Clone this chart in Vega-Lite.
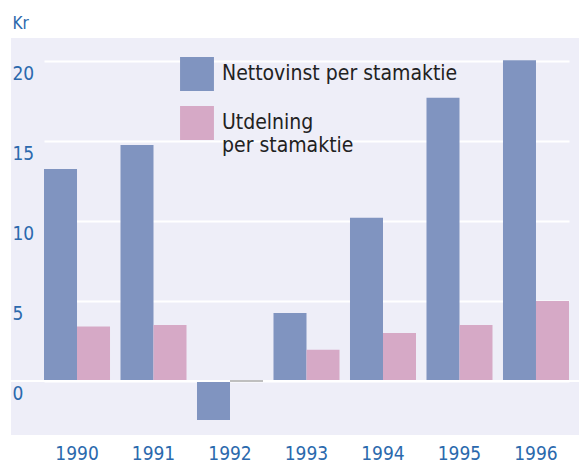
{
  "$schema": "https://vega.github.io/schema/vega-lite/v6.json",
  "width": 568,
  "height": 397,
  "autosize": {"type": "none"},
  "padding": {"left": 11, "top": 38, "right": 0, "bottom": 28},
  "background": "#ffffff",
  "config": {
    "view": {"fill": "#eeeef8", "stroke": null},
    "font": "'DejaVu Sans Condensed', Roboto, sans-serif"
  },
  "data": {
    "values": [
      {"year": "1990", "series": "Nettovinst per stamaktie", "value": 13.25},
      {"year": "1990", "series": "Utdelning per stamaktie", "value": 3.4},
      {"year": "1991", "series": "Nettovinst per stamaktie", "value": 14.75},
      {"year": "1991", "series": "Utdelning per stamaktie", "value": 3.5},
      {"year": "1992", "series": "Nettovinst per stamaktie", "value": -2.44},
      {"year": "1992", "series": "Utdelning per stamaktie", "value": 0},
      {"year": "1993", "series": "Nettovinst per stamaktie", "value": 4.25},
      {"year": "1993", "series": "Utdelning per stamaktie", "value": 1.95},
      {"year": "1994", "series": "Nettovinst per stamaktie", "value": 10.2},
      {"year": "1994", "series": "Utdelning per stamaktie", "value": 3.0},
      {"year": "1995", "series": "Nettovinst per stamaktie", "value": 17.7},
      {"year": "1995", "series": "Utdelning per stamaktie", "value": 3.5},
      {"year": "1996", "series": "Nettovinst per stamaktie", "value": 20.05},
      {"year": "1996", "series": "Utdelning per stamaktie", "value": 5.0}
    ]
  },
  "encoding": {
    "x": {
      "field": "year",
      "type": "nominal",
      "scale": {"range": [33, 558], "paddingInner": 0.137, "paddingOuter": 0},
      "axis": {
        "title": null,
        "labelAngle": 0,
        "ticks": false,
        "domain": false,
        "grid": false,
        "labelPadding": 9,
        "labelFontSize": 19,
        "labelColor": "#2b69ad"
      }
    },
    "xOffset": {
      "field": "series",
      "type": "nominal",
      "sort": ["Nettovinst per stamaktie", "Utdelning per stamaktie"],
      "scale": {"paddingInner": 0, "paddingOuter": 0}
    },
    "y": {
      "field": "value",
      "type": "quantitative",
      "scale": {"domain": [-3.375, 21.4375], "nice": false, "zero": false},
      "axis": {
        "title": "Kr",
        "titleAngle": 0,
        "titleX": 1,
        "titleY": -10,
        "titleAlign": "left",
        "titleBaseline": "alphabetic",
        "titleFontSize": 17,
        "titleFontWeight": "normal",
        "titleColor": "#2b69ad",
        "values": [0, 5, 10, 15, 20],
        "grid": true,
        "gridColor": "#ffffff",
        "gridWidth": 2,
        "gridOpacity": 1,
        "domain": false,
        "ticks": false,
        "labelAlign": "left",
        "labelBaseline": "middle",
        "labelPadding": -1,
        "labelOffset": 12,
        "labelFontSize": 19,
        "labelColor": "#2b69ad"
      }
    }
  },
  "layer": [
    {
      "mark": {"type": "bar"},
      "encoding": {
        "color": {
          "field": "series",
          "type": "nominal",
          "scale": {
            "domain": ["Nettovinst per stamaktie", "Utdelning per stamaktie"],
            "range": ["#8094c0", "#d6a9c6"]
          },
          "legend": {
            "title": null,
            "orient": "none",
            "legendX": 169,
            "legendY": 19,
            "padding": 0,
            "symbolType": "square",
            "symbolSize": 1150,
            "symbolStrokeWidth": 0,
            "symbolOpacity": 1,
            "labelFontSize": 21,
            "labelColor": "#222222",
            "labelOffset": 8,
            "labelLimit": 300,
            "rowPadding": 15,
            "labelExpr": "datum.label == 'Utdelning per stamaktie' ? ['Utdelning', 'per stamaktie'] : datum.label"
          }
        }
      }
    },
    {
      "mark": {"type": "rule", "color": "#ffffff", "strokeWidth": 2},
      "encoding": {"y": {"datum": 0}, "x": null, "xOffset": null}
    },
    {
      "transform": [{"filter": "datum.value == 0"}],
      "mark": {"type": "tick", "orient": "horizontal", "color": "#aaaaaa", "thickness": 1.5, "size": 33, "opacity": 1}
    }
  ]
}
